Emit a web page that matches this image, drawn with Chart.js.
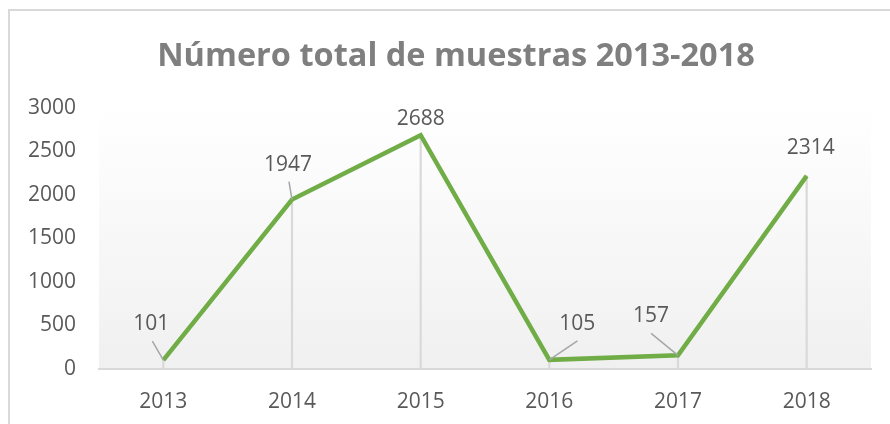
<!DOCTYPE html>
<html>
<head>
<meta charset="utf-8">
<script src="https://cdn.jsdelivr.net/npm/chart.js@4"></script>
<style>
  html, body { margin: 0; padding: 0; background: #fff; overflow: hidden; }
  #wrap { position: relative; width: 890px; height: 424px; }
  #marco { position: absolute; left: 8px; top: 9px; width: 900px; height: 440px; border: 2px solid #d9d9d9; }
  #grafico { position: absolute; left: 0; top: 0; }
</style>
</head>
<body>
<div id="wrap">
  <div id="marco"></div>
  <canvas id="grafico" width="890" height="424"></canvas>
</div>
<script>
// datos
const anios = ['2013', '2014', '2015', '2016', '2017', '2018'];
const muestras = [101, 1947, 2688, 105, 157, 2220];
const etiquetas = ['101', '1947', '2688', '105', '157', '2314'];
const titulo = 'Número total de muestras 2013-2018';

const FUENTE = '"Open Sans", "Liberation Sans", sans-serif';

// fondo degradado del área de trazado
const fondoPlugin = {
    id: 'fondo',
    beforeDraw(chart) {
        const { ctx, chartArea: a } = chart;
        const g = ctx.createLinearGradient(0, a.top, 0, a.bottom);
        g.addColorStop(0, '#ffffff');
        g.addColorStop(1, '#f0f0f0');
        ctx.save();
        ctx.fillStyle = g;
        ctx.fillRect(a.left, a.top, a.right - a.left, a.bottom - a.top);
        ctx.restore();
    }
};

// título centrado sobre todo el marco (no sólo sobre el área del gráfico)
const tituloPlugin = {
    id: 'tituloMarco',
    afterDraw(chart) {
        const { ctx } = chart;
        ctx.save();
        ctx.font = 'bold 32.5px ' + FUENTE;
        ctx.fillStyle = '#7f7f7f';
        ctx.textAlign = 'center';
        ctx.textBaseline = 'alphabetic';
        ctx.fillText(titulo, 456, 66);
        ctx.restore();
    }
};

// etiquetas de datos con líneas guía (como en Excel)
const etiquetasPlugin = {
    id: 'etiquetas',
    afterDatasetsDraw(chart, args, opts) {
        const { ctx } = chart;
        const meta = chart.getDatasetMeta(1);
        ctx.save();
        ctx.font = '21px ' + FUENTE;
        ctx.textAlign = 'center';
        ctx.textBaseline = 'middle';
        meta.data.forEach((pt, i) => {
            const off = opts.offsets[i];
            const lx = pt.x + off[0], ly = pt.y + off[1];
            if (off[2]) {
                ctx.strokeStyle = '#a6a6a6';
                ctx.lineWidth = 1.5;
                ctx.beginPath();
                ctx.moveTo(lx + off[2], ly + 17);
                ctx.lineTo(pt.x, pt.y);
                ctx.stroke();
            }
            ctx.fillStyle = '#595959';
            ctx.fillText(etiquetas[i], lx, ly);
        });
        ctx.restore();
    }
};

new Chart(document.getElementById('grafico').getContext('2d'), {
    data: {
        labels: anios,
        datasets: [{
            type: 'bar',
            data: muestras,
            backgroundColor: '#d9d9d9',
            barThickness: 1.5,
            order: 2
        }, {
            type: 'line',
            data: muestras,
            borderColor: '#70ad47',
            borderWidth: 4.5,
            pointRadius: 0,
            tension: 0,
            order: 1
        }]
    },
    options: {
        responsive: false,
        animation: false,
        layout: { padding: { left: 0, right: 19, top: 108, bottom: 0 } },
        plugins: {
            legend: { display: false },
            tooltip: { enabled: false },
            title: { display: false },
            etiquetas: {
                // [dx, dy, desplazamiento de la línea guía]
                offsets: [[-12, -36, 1], [-4, -35, 1], [0, -16, 0], [28, -36, 0.1], [-27, -39, 0.1], [4, -28, 0]]
            }
        },
        scales: {
            x: {
                offset: true,
                grid: { display: false },
                border: { display: true, color: '#d9d9d9', width: 2 },
                ticks: { color: '#595959', font: { family: FUENTE, size: 21 }, padding: 12 },
                afterFit: s => { s.height = 55; }
            },
            y: {
                min: 0,
                max: 3000,
                grid: { display: false },
                border: { display: false },
                ticks: {
                    stepSize: 500,
                    color: '#595959',
                    font: { family: FUENTE, size: 21 },
                    padding: 15,
                    callback: v => String(v)
                },
                afterFit: s => { s.width = 99; }
            }
        }
    },
    plugins: [fondoPlugin, etiquetasPlugin, tituloPlugin]
});
</script>
</body>
</html>
